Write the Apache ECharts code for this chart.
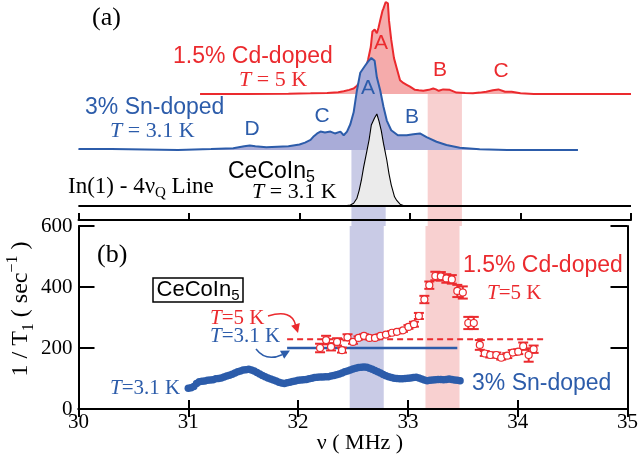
<!DOCTYPE html>
<html><head><meta charset="utf-8">
<script src="https://cdn.jsdelivr.net/npm/echarts@6/dist/echarts.min.js"></script>
<style>html,body{margin:0;padding:0;background:#fff}#c{width:641px;height:458px}</style>
</head><body><div id="c"></div>
<script>
// ---------- data ----------
const xMin = 30, xMax = 35, xStep = 1;
const yMin = 0, yMax = 600, yStep = 200;

// (a) NMR spectra: frequency (MHz) and normalized intensity
const cdFreq = [31.10,31.50,31.90,32.10,32.25,32.35,32.40,32.45,32.49,32.52,32.55,32.58,32.60,32.62,32.645,32.66,32.68,32.70,32.715,32.73,32.75,32.76,32.78,32.80,32.81,32.83,32.855,32.88,32.91,32.94,32.97,33.00,33.045,33.08,33.12,33.17,33.21,33.235,33.26,33.30,33.36,33.42,33.50,33.57,33.63,33.69,33.75,33.80,33.86,33.92,34.00,34.12,34.50,35.00];
const cdInt  = [0,0,0.004,0.008,0.012,0.02,0.03,0.045,0.06,0.09,0.13,0.2,0.27,0.37,0.51,0.68,0.70,0.66,0.72,0.80,0.90,0.93,1.0,0.985,0.80,0.59,0.39,0.28,0.15,0.12,0.10,0.08,0.045,0.04,0.035,0.045,0.06,0.05,0.035,0.05,0.045,0.015,0.01,0.008,0.015,0.025,0.04,0.05,0.025,0.025,0.008,0,0,0];
const snFreq = [30.00,30.30,30.60,30.90,31.20,31.40,31.50,31.55,31.60,31.70,31.80,31.90,32.00,32.05,32.10,32.13,32.16,32.19,32.23,32.28,32.32,32.37,32.40,32.43,32.46,32.49,32.52,32.55,32.59,32.62,32.65,32.68,32.70,32.73,32.76,32.79,32.83,32.89,32.97,33.03,33.09,33.15,33.24,33.33,33.45,33.63,33.88,34.52];
const snInt  = [0.01,0.01,0.005,0,0.01,0.02,0.04,0.05,0.04,0.03,0.035,0.04,0.06,0.08,0.11,0.15,0.18,0.20,0.19,0.20,0.18,0.20,0.16,0.20,0.28,0.41,0.65,0.84,0.91,0.96,1.0,0.97,0.79,0.65,0.47,0.32,0.215,0.16,0.16,0.17,0.18,0.14,0.09,0.054,0.025,0.008,0,0];
const ceFreq = [30.00,32.40,32.46,32.49,32.52,32.54,32.56,32.58,32.61,32.63,32.65,32.68,32.70,32.72,32.74,32.76,32.79,32.81,32.83,32.86,32.88,32.91,32.94,33.00,35.00];
const ceInt  = [0,0,0.01,0.03,0.085,0.17,0.28,0.42,0.60,0.72,0.88,0.96,1.0,0.92,0.82,0.68,0.50,0.35,0.23,0.10,0.06,0.02,0.005,0,0];
// vertical offsets of the stacked spectra and common scale (arbitrary units)
const ceOffset = 20, snOffset = 76, cdOffset = 132;
const specScale = 92, specTop = 226;

// (b) 1/T1 data
const snT1Start = 31.0, snT1Step = 0.025;
const snT1 = [68,70,74,84,89,91,92,94,95,96,99,100,102,105,108,111,114,118,122,125,128,129,130,128,125,120,115,110,106,102,98,95,92,88,85,84,86,88,90,92,94,95,96,97,99,101,103,104,105,105,106,106,108,110,112,115,118,122,125,128,131,134,136,137,138,137,134,130,126,122,118,113,109,106,103,101,100,99,99,100,101,102,103,104,102,98,95,93,94,95,96,97,97,96,97,98,97,95,94,93];
const cdT1Freq = [32.20,32.255,32.30,32.355,32.40,32.45,32.50,32.55,32.60,32.65,32.70,32.75,32.80,32.855,32.90,32.955,33.005,33.055,33.10,33.15,33.195,33.25,33.30,33.35,33.40,33.45,33.50,33.55,33.60,33.655,33.70,33.75,33.805,33.85,33.905,33.955,34.005,34.05,34.10,34.145];
const cdT1    = [200,226,204,220,193,235,220,233,240,233,233,240,244,250,253,258,269,278,305,359,406,436,435,428,425,387,382,282,282,210,182,177,177,168,175,185,188,206,177,196];
const cdT1Err = [14,14,12,12,8,10,6,5,5,5,5,5,5,5,5,5,6,8,10,12,12,14,14,14,14,20,20,20,20,16,8,8,8,6,8,8,8,12,22,12];
const snRefFreq = [31.9, 33.45], snRefVal = 200;   // T=3.1 K reference (CeCoIn5)
const cdRefFreq = [31.9, 34.25], cdRefVal = 229;   // T=5 K reference (CeCoIn5)
const bandSn = [32.47, 32.78], bandCd = [33.16, 33.47];

// ---------- styles ----------
const RED = '#eb2a2e', BLUE = '#2c5caa';
const RED_FILL = '#f5abab', BLUE_FILL = '#a9acd8', GRAY_FILL = '#ebebeb';
const RED_BAND = '#f8d0d0', BLUE_BAND = '#c9cbe6';
const SERIF = "'Liberation Serif','Times New Roman',serif";
const SANS = "'Liberation Sans',Arial,Helvetica,sans-serif";

const spec = (fr, it, off) => fr.map((f, i) => [f, off + specScale * it[i]]);

const bandRender = (params, api) => {
  const p0 = api.coord([api.value(0), api.value(2)]);
  const p1 = api.coord([api.value(1), api.value(3)]);
  return {type: 'rect', shape: {x: p0[0], y: p0[1], width: p1[0] - p0[0], height: p1[1] - p0[1]},
          style: {fill: api.value(4) === 0 ? BLUE_BAND : RED_BAND}};
};

const errRender = (params, api) => {
  const x = api.value(0);
  const a = api.coord([x, api.value(1)]), b = api.coord([x, api.value(2)]);
  const w = 5, st = {stroke: RED, lineWidth: 2};
  return {type: 'group', children: [
    {type: 'line', shape: {x1: a[0], y1: a[1], x2: b[0], y2: b[1]}, style: st},
    {type: 'line', shape: {x1: a[0] - w, y1: a[1], x2: a[0] + w, y2: a[1]}, style: st},
    {type: 'line', shape: {x1: b[0] - w, y1: b[1], x2: b[0] + w, y2: b[1]}, style: st}
  ]};
};

function R(size, color, family, opts) {
  return Object.assign({fontSize: size, fill: color, fontFamily: family, lineHeight: size + 6}, opts || {});
}
function txt(x, y, text, rich, align) {
  return {type: 'text', x: x, y: y, z: 100,
    style: {text: text, rich: rich, align: align || 'left', verticalAlign: 'middle'}};
}
function tLabel(color, size) {
  return {it: R(size, color, SERIF, {fontStyle: 'italic'}), n: R(size, color, SERIF)};
}
const letter = (x, y, ch, color) => txt(x, y, '{n|' + ch + '}', {n: R(21, color, SANS)}, 'center');

const axLine = {lineStyle: {color: '#000', width: 2}};
const tickX = (len) => ({inside: true, length: len, lineStyle: {color: '#000', width: 2}});

const chart = echarts.init(document.getElementById('c'), null, {renderer: 'canvas'});
chart.setOption({
  animation: false,
  backgroundColor: '#fff',
  grid: [
    {left: 78.5, right: 10, top: 0, height: 226},
    {left: 78.5, right: 10, top: 226, height: 183}
  ],
  xAxis: [
    {gridIndex: 0, type: 'value', min: xMin, max: xMax, interval: xStep, position: 'bottom', offset: -6, z: 10,
     axisLine: axLine, axisTick: tickX(7), axisLabel: {show: false}, splitLine: {show: false}},
    {gridIndex: 1, type: 'value', min: xMin, max: xMax, interval: xStep, position: 'bottom', z: 10,
     axisLine: axLine, axisTick: tickX(9), splitLine: {show: false},
     axisLabel: {fontFamily: SERIF, fontSize: 21, color: '#000', margin: 3}},
    {gridIndex: 1, type: 'value', min: xMin, max: xMax, interval: xStep, position: 'top', z: 10,
     axisLine: axLine, axisTick: tickX(8), axisLabel: {show: false}, splitLine: {show: false}}
  ],
  yAxis: [
    {gridIndex: 0, type: 'value', min: 0, max: specTop, show: false},
    {gridIndex: 1, type: 'value', min: yMin, max: yMax, interval: yStep, position: 'left', z: 10,
     axisLine: axLine, axisTick: tickX(16), splitLine: {show: false},
     axisLabel: {fontFamily: SERIF, fontSize: 21, color: '#000', margin: 6}},
    {gridIndex: 1, type: 'value', min: yMin, max: yMax, interval: yStep, position: 'right', z: 10,
     axisLine: axLine, axisTick: tickX(17), axisLabel: {show: false}, splitLine: {show: false}}
  ],
  series: [
    {type: 'custom', xAxisIndex: 0, yAxisIndex: 0, z: 1, renderItem: bandRender, encode: {x: [0, 1], y: [2, 3]},
     data: [[bandSn[0], bandSn[1], snOffset, 0, 0], [bandCd[0], bandCd[1], cdOffset, 0, 1]]},
    {type: 'line', xAxisIndex: 0, yAxisIndex: 0, z: 2, symbol: 'none', data: spec(cdFreq, cdInt, cdOffset),
     lineStyle: {color: RED, width: 2}, areaStyle: {color: RED_FILL, origin: cdOffset, opacity: 1}},
    {type: 'line', xAxisIndex: 0, yAxisIndex: 0, z: 3, symbol: 'none', data: spec(snFreq, snInt, snOffset),
     lineStyle: {color: BLUE, width: 2}, areaStyle: {color: BLUE_FILL, origin: snOffset, opacity: 1}},
    {type: 'line', xAxisIndex: 0, yAxisIndex: 0, z: 4, symbol: 'none', data: spec(ceFreq, ceInt, ceOffset),
     lineStyle: {color: '#000', width: 1.1}, areaStyle: {color: GRAY_FILL, origin: ceOffset, opacity: 1}},
    {type: 'line', xAxisIndex: 0, yAxisIndex: 0, z: 4, symbol: 'none', data: [[xMin, ceOffset], [xMax, ceOffset]],
     lineStyle: {color: '#000', width: 2}},

    {type: 'custom', xAxisIndex: 1, yAxisIndex: 1, z: 1, renderItem: bandRender, encode: {x: [0, 1], y: [2, 3]},
     data: [[bandSn[0], bandSn[1], yMax, yMin, 0], [bandCd[0], bandCd[1], yMax, yMin, 1]]},
    {type: 'line', xAxisIndex: 1, yAxisIndex: 1, z: 3, symbol: 'none',
     data: snRefFreq.map(f => [f, snRefVal]), lineStyle: {color: BLUE, width: 2.5}},
    {type: 'line', xAxisIndex: 1, yAxisIndex: 1, z: 3, symbol: 'none',
     data: cdRefFreq.map(f => [f, cdRefVal]), lineStyle: {color: RED, width: 2, type: [6, 4]}},
    {type: 'scatter', xAxisIndex: 1, yAxisIndex: 1, z: 4, symbol: 'circle', symbolSize: 7.5,
     data: snT1.map((v, i) => [snT1Start + i * snT1Step, v]), itemStyle: {color: BLUE, opacity: 1}},
    {type: 'custom', xAxisIndex: 1, yAxisIndex: 1, z: 5, renderItem: errRender, encode: {x: 0, y: [1, 2]},
     data: cdT1Freq.map((f, i) => [f, cdT1[i] - cdT1Err[i], cdT1[i] + cdT1Err[i]])},
    {type: 'scatter', xAxisIndex: 1, yAxisIndex: 1, z: 6, symbol: 'circle', symbolSize: 7,
     data: cdT1Freq.map((f, i) => [f, cdT1[i]]),
     itemStyle: {color: '#fff', borderColor: RED, borderWidth: 1.2, opacity: 1}}
  ],
  graphic: [
    // panel (a)
    txt(92, 18, '{n|(a)}', {n: R(26, '#000', SERIF)}),
    txt(173, 57, '{n|1.5% Cd-doped}', {n: R(23, RED, SANS)}),
    txt(239, 80, '{it|T}{n| = 5 K}', tLabel(RED, 22)),
    txt(85, 108, '{n|3% Sn-doped}', {n: R(23, BLUE, SANS)}),
    txt(110, 131, '{it|T}{n| = 3.1 K}', tLabel(BLUE, 22)),
    txt(228, 172, '{n|CeCoIn}{sub|5}', {n: R(23, '#000', SANS, {lineHeight: 28}), sub: R(16, '#000', SANS, {lineHeight: 18, verticalAlign: 'bottom'})}),
    txt(252, 192, '{it|T}{n| = 3.1 K}', tLabel('#000', 22)),
    txt(68, 187, '{n|In(1) - 4ν}{sub|Q}{n| Line}', {n: R(23, '#000', SERIF, {lineHeight: 28}), sub: R(15, '#000', SERIF, {lineHeight: 17, verticalAlign: 'bottom'})}),
    letter(381, 43, 'A', RED), letter(440, 70, 'B', RED), letter(501, 71, 'C', RED),
    letter(368, 88, 'A', BLUE), letter(412, 117, 'B', BLUE), letter(322, 116, 'C', BLUE), letter(252, 129, 'D', BLUE),
    // panel (b)
    txt(97, 255, '{n|(b)}', {n: R(26, '#000', SERIF)}),
    {type: 'rect', z: 99, shape: {x: 153, y: 278, width: 90, height: 24}, style: {fill: '#fff', stroke: '#000', lineWidth: 1.5}},
    txt(198, 290, '{n|CeCoIn}{sub|5}', {n: R(22, '#000', SANS, {lineHeight: 26}), sub: R(15, '#000', SANS, {lineHeight: 17, verticalAlign: 'bottom'})}, 'center'),
    txt(210, 318, '{it|T}{n|=5 K}', tLabel(RED, 21)),
    txt(210, 336, '{it|T}{n|=3.1 K}', tLabel(BLUE, 21)),
    txt(110, 388, '{it|T}{n|=3.1 K}', tLabel(BLUE, 21)),
    txt(463, 266, '{n|1.5% Cd-doped}', {n: R(23, RED, SANS)}),
    txt(487, 293, '{it|T}{n|=5 K}', tLabel(RED, 21)),
    txt(472, 384, '{n|3% Sn-doped}', {n: R(23, BLUE, SANS)}),
    // arrows
    {type: 'bezierCurve', z: 100, shape: {x1: 268, y1: 316, x2: 295.5, y2: 325, cpx1: 292, cpy1: 309}, style: {stroke: RED, lineWidth: 1.5, fill: null}},
    {type: 'polygon', z: 100, shape: {points: [[298, 333], [299.8, 323.1], [291.2, 325.7]]}, style: {fill: RED}},
    {type: 'bezierCurve', z: 100, shape: {x1: 256, y1: 349, x2: 282, y2: 354.7, cpx1: 266, cpy1: 362}, style: {stroke: BLUE, lineWidth: 1.5, fill: null}},
    {type: 'polygon', z: 100, shape: {points: [[290, 350.5], [284.2, 358.7], [280, 350.7]]}, style: {fill: BLUE}},
    // axis titles
    txt(360, 443, '{n|ν ( MHz )}', {n: R(22, '#000', SERIF)}, 'center'),
    {type: 'text', z: 100, x: 21, y: 309, rotation: Math.PI / 2,
     style: {text: '{n|1 / T}{sub|1}{n| ( sec}{sup|−1}{n| )}', align: 'center', verticalAlign: 'middle',
       rich: {n: R(24, '#000', SERIF, {lineHeight: 32}), sub: R(16, '#000', SERIF, {lineHeight: 18, verticalAlign: 'bottom'}),
              sup: R(16, '#000', SERIF, {lineHeight: 18, verticalAlign: 'top'})}}}
  ]
});
</script></body></html>
